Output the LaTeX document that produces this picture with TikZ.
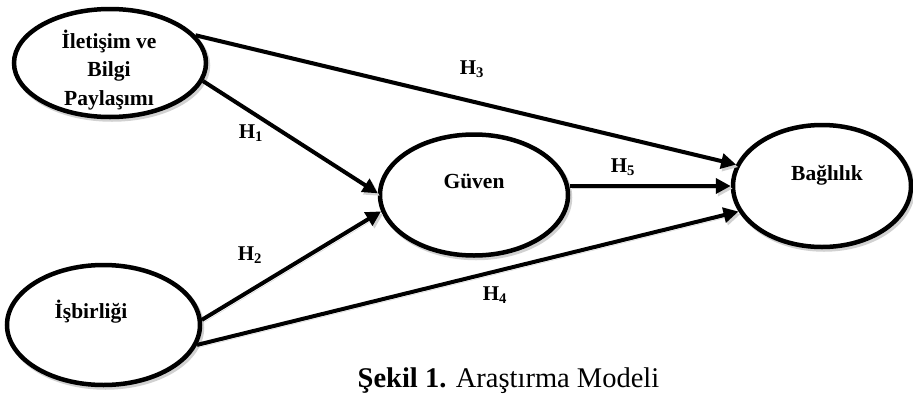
\documentclass[tikz,border=0pt]{standalone}
\usepackage{fontspec}
\setmainfont{Liberation Serif}
\usetikzlibrary{arrows.meta,shapes.geometric}

\begin{document}
\begin{tikzpicture}[x=1pt,y=-1pt,
  latent/.style={ellipse, draw, line width=4.5pt, fill=white, inner sep=0pt,
    preaction={draw=black!18, line width=4.5pt, transform canvas={shift={(2pt,-2.5pt)}}}},
  link/.style={line width=4pt, -{Triangle[length=15pt,width=15pt]},
    preaction={draw=black!18, transform canvas={shift={(2pt,-2.5pt)}}}},
  vartext/.style={font=\fontsize{21.5}{28.5}\selectfont\bfseries, align=center, inner sep=0pt},
  hyp/.style={font=\fontsize{21}{21}\selectfont\bfseries, inner sep=0pt, anchor=base},
  caption/.style={font=\fontsize{28.5}{30}\selectfont, inner sep=0pt, anchor=base}]
\useasboundingbox (0,0) rectangle (913,394);

% latent variables
\path
  node[latent, minimum width=192pt, minimum height=108pt] (com) at (110,63) {}
  node[latent, minimum width=193pt, minimum height=120pt] (isb) at (103.5,325) {}
  node[latent, minimum width=188pt, minimum height=121pt] (gv)  at (474,195) {}
  node[latent, minimum width=178pt, minimum height=122pt] (bg)  at (822,186) {};

% hypothesised paths
\draw[link] (com.18)  -- (bg.166);
\draw[link] (com.-11) -- (gv.179);
\draw[link] (isb.3)   -- (gv.190);
\draw[link] (isb.-12.6) -- (bg.197);
\draw[link] (gv.east |- bg.west) -- (bg.west);

% variable names
\node[vartext] (comtext) at (109,70) {İletişim ve\\Bilgi\\Paylaşımı};
\node[vartext, anchor=base] (isbtext) at (91,318) {İşbirliği};
\node[vartext, anchor=base] (gvtext) at (474,188) {Güven};
\node[vartext, anchor=base] (bgtext) at (827,180) {Bağlılık};

% hypothesis labels
\node[hyp] (h1) at (251,138) {H\textsubscript{1}};
\node[hyp] (h2) at (250,260) {H\textsubscript{2}};
\node[hyp] (h3) at (472,74)  {H\textsubscript{3}};
\node[hyp] (h4) at (495,300) {H\textsubscript{4}};
\node[hyp] (h5) at (623,172) {H\textsubscript{5}};

% figure caption
\node[caption] (cap) at (508.5,387) {\textbf{Şekil 1.} Araştırma Modeli};
\end{tikzpicture}
\end{document}
